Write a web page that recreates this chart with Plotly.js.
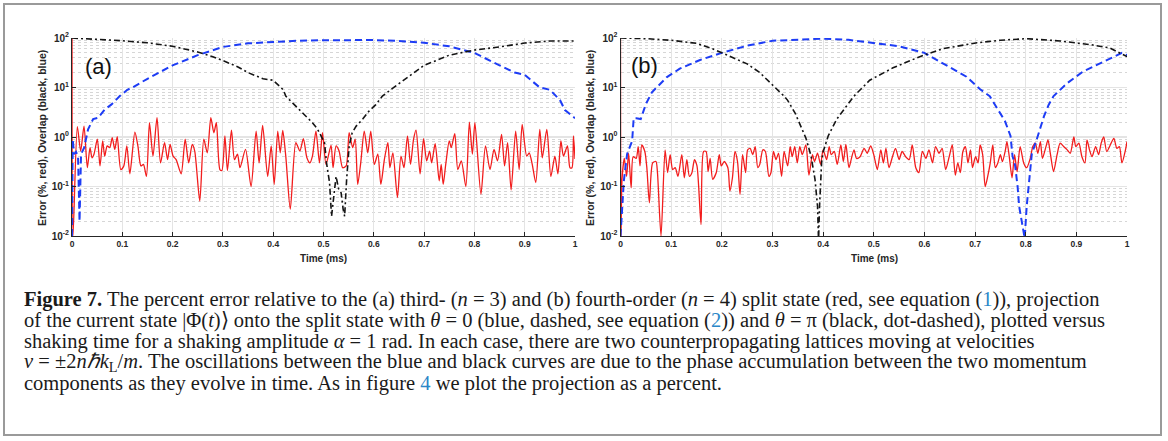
<!DOCTYPE html>
<html><head><meta charset="utf-8">
<script src="https://cdn.plot.ly/plotly-3.0.1.min.js"></script>
<style>html,body{margin:0;padding:0;background:#fff;}#chart{width:1168px;height:441px;}</style>
</head><body><div id="chart"></div>
<script>
// ---------- Panel (a): third-order split state ----------
const tRedA = [0,0.002,0.0106,0.0172,0.0239,0.0305,0.0358,0.0398,0.0437,0.0504,0.0557,0.061,0.065,0.070,0.075,0.080,0.085,0.090,0.097,0.103,0.109,0.115,0.125,0.131,0.137,0.142,0.148,0.154,0.161,0.169,0.176,0.184,0.190,0.195,0.201,0.207,0.217,0.225,0.232,0.239,0.244,0.254,0.262,0.269,0.276,0.282,0.287,0.294,0.298,0.304,0.309,0.317,0.323,0.329,0.334,
0.345,0.356,0.366,0.372,0.379,0.389,0.396,0.402,0.409,0.414,0.419,0.425,0.434,0.445,0.453,0.460,0.467,0.473,0.478,0.485,0.492,0.498,0.505,0.515,0.519,0.525,0.531,0.538,0.545,0.551,0.558,0.563,0.568,0.574,0.581,0.588,0.594,0.601,0.608,0.614,0.621,0.628,0.632,0.638,0.647,0.654,0.660,
0.667,0.673,0.679,0.684,0.692,0.699,0.705,0.711,0.715,0.722,0.730,0.734,0.738,0.743,0.750,0.754,0.761,0.767,0.774,0.783,0.790,0.796,0.801,0.813,0.822,0.831,0.839,0.846,0.854,0.860,0.866,0.873,0.882,0.889,0.895,0.904,0.909,0.915,0.922,0.930,0.935,0.944,0.952,0.960,0.966,0.972,0.977,0.985,0.990,0.994,0.997,1.0];
const redA = [100,0.01,1.61,0.52,1.66,0.24,0.61,0.38,0.45,0.90,0.26,0.83,0.41,0.66,0.61,0.97,0.56,1.02,0.22,0.26,0.66,0.18,1.26,0.66,0.26,0.28,0.16,1.94,0.41,2.45,0.30,0.77,0.35,0.71,0.41,0.35,0.18,0.90,0.30,0.71,0.52,0.051,0.90,0.48,2.45,1.22,1.94,0.22,0.21,1.05,0.21,1.38,0.35,0.45,0.24,
0.56,0.10,1.32,0.30,1.72,0.16,0.66,0.11,1.32,0.48,1.36,0.41,0.035,0.77,0.52,0.93,0.38,0.30,0.41,1.32,0.30,1.22,0.28,0.68,0.24,0.66,0.52,0.24,0.26,1.22,0.61,0.90,0.11,0.30,1.32,0.48,1.32,0.28,0.45,0.11,0.35,0.77,0.24,0.48,0.06,0.41,0.24,
1.05,0.28,0.90,1.38,0.18,0.93,0.33,0.52,0.30,0.73,0.13,0.28,0.11,0.28,0.83,0.61,1.17,0.22,0.33,0.10,2.0,0.45,1.94,0.07,0.66,0.22,0.56,0.33,1.13,0.26,0.77,0.085,1.32,0.22,1.80,0.41,0.48,0.28,0.12,1.43,0.38,1.43,0.16,0.41,0.18,0.83,0.41,0.66,0.24,0.24,1.05,0.36];

const tBlueA = [0,0.0015,0.004,0.008,0.012,0.015,0.018,0.024,0.032,0.042,0.052,0.065,0.078,0.095,0.11,0.12,0.15,0.2,0.25,0.3,0.35,0.4,0.45,0.5,0.55,0.6,0.65,0.7,0.75,0.79,0.8,0.85,0.88,0.9,0.93,0.95,0.97,0.98,1.0];
const blueA  = [0.01,0.9,0.45,0.5,0.4,0.02,0.45,0.6,1.43,2.3,2.45,3.6,4.5,6.7,9,10,15,28,45,66,78,83,88,90,92,91,87,80,68,52,50,28,20,18,10,9,5.6,3.5,2.4];

const tBlackA = [0,0.05,0.1,0.15,0.2,0.25,0.28,0.3,0.33,0.35,0.38,0.4,0.42,0.425,0.451,0.478,0.488,0.497,0.502,0.506,0.512,0.516,0.52,0.525,0.53,0.535,0.539,0.542,0.546,0.551,0.557,0.565,0.578,0.59,0.604,0.617,0.65,0.7,0.75,0.8,0.85,0.9,0.95,1.0];
const blackA  = [100,95,88,80,68,52,42,35,26,20,15,14,9,6.7,3.7,1.94,1.45,1.0,0.77,0.30,0.12,0.025,0.065,0.16,0.09,0.075,0.035,0.025,0.14,0.66,1.22,1.66,2.3,3.3,4.5,6.7,12,28,45,57,66,79,87,87];

// ---------- Panel (b): fourth-order split state ----------
const tRedB = [0,0.001,0.003,0.0076,0.012,0.016,0.021,0.025,0.031,0.035,0.0385,0.042,0.048,0.052,0.057,0.0635,0.070,0.073,0.080,0.088,0.093,0.098,0.103,0.108,0.1135,0.121,0.126,0.131,0.136,0.141,0.146,0.151,0.159,0.164,0.169,0.173,0.177,0.182,0.189,0.195,0.199,0.205,0.212,0.216,0.221,0.226,0.231,0.236,0.241,0.247,0.251,0.256,0.261,0.266,0.271,0.275,0.281,0.286,0.293,0.297,0.302,0.307,0.312,0.318,0.323,0.330,
0.335,0.339,0.344,0.349,0.354,0.359,0.366,0.372,0.379,0.383,0.389,0.395,0.400,0.407,0.412,0.416,0.422,0.428,0.435,0.440,0.445,0.451,0.456,0.461,0.466,0.473,0.481,0.487,0.494,0.500,0.507,0.514,0.519,0.524,0.530,0.537,0.543,0.550,0.556,0.563,0.570,0.576,0.583,0.589,0.596,0.603,0.609,0.616,0.622,0.629,0.635,0.642,0.649,0.655,0.661,
0.666,0.671,0.676,0.681,0.686,0.691,0.695,0.701,0.706,0.710,0.715,0.720,0.725,0.730,0.735,0.740,0.745,0.750,0.754,0.760,0.763,0.768,0.773,0.778,0.783,0.789,0.796,0.802,0.809,0.814,0.819,0.824,0.829,0.833,0.840,0.844,0.849,0.855,0.862,0.868,0.875,0.882,0.888,0.895,0.899,0.905,0.911,0.917,0.921,0.926,0.931,0.938,0.944,0.949,0.954,0.960,0.967,0.974,0.980,0.985,0.990,0.997,1.0];
const redB = [100,0.01,0.14,0.37,0.16,0.47,0.094,0.40,0.37,0.64,0.26,0.69,0.51,0.24,0.047,0.30,0.32,0.19,0.010,0.55,0.19,0.44,0.22,0.24,0.16,0.44,0.15,0.35,0.16,0.19,0.35,0.26,0.017,0.51,0.51,0.20,0.37,0.14,0.19,0.44,0.26,0.32,0.24,0.081,0.15,0.51,0.32,0.069,0.44,0.19,0.55,0.59,0.44,0.64,0.24,0.28,0.55,0.51,0.16,0.19,0.51,0.35,0.47,0.16,0.51,0.26,
0.64,0.40,0.64,0.30,0.64,0.44,0.69,0.17,0.44,0.32,0.47,0.28,0.55,0.35,0.64,0.44,0.51,0.28,0.69,0.32,0.71,0.24,0.37,0.55,0.37,0.40,0.59,0.47,0.66,0.44,0.22,0.55,0.30,0.59,0.24,0.40,0.59,0.35,0.51,0.40,0.35,0.69,0.24,0.19,0.51,0.37,0.55,0.30,0.64,0.47,0.59,0.22,0.40,0.69,0.17,
0.30,0.19,0.51,0.64,0.30,0.55,0.24,0.40,0.30,0.69,0.44,0.10,0.16,0.30,0.69,0.24,0.30,0.44,0.32,0.55,0.81,0.37,0.15,0.44,0.20,0.64,0.30,0.24,0.37,0.64,0.75,0.47,0.81,0.37,0.64,0.87,0.44,0.20,0.44,0.75,0.64,0.55,0.47,1.0,0.64,0.75,0.40,0.30,0.87,0.55,0.40,0.64,0.44,0.75,1.0,0.51,0.69,0.94,0.59,0.64,0.30,0.55,0.81];

const tBlueB = [0,0.004,0.0066,0.013,0.02,0.023,0.026,0.031,0.04,0.05,0.062,0.075,0.091,0.117,0.157,0.2,0.25,0.3,0.35,0.4,0.45,0.5,0.55,0.6,0.644,0.683,0.71,0.729,0.736,0.759,0.770,0.774,0.779,0.784,0.787,0.79,0.798,0.802,0.807,0.812,0.822,0.829,0.836,0.845,0.855,0.881,0.913,0.953,0.99,1.0];
const blueB  = [0.01,0.05,0.13,0.45,0.7,0.83,2.4,2.4,2.3,4.6,8,11,16,24,36,50,70,88,93,97,92,80,68,50,28,16.5,9.2,6.7,5.1,2.1,1.05,0.41,0.27,0.1,0.04,0.025,0.009,0.04,0.14,0.45,0.91,1.5,2.6,4.4,6.7,12,21,33,50,45];

const tBlackB = [0,0.05,0.1,0.15,0.183,0.2,0.222,0.25,0.275,0.3,0.315,0.323,0.33,0.345,0.355,0.366,0.376,0.384,0.389,0.391,0.393,0.397,0.40,0.41,0.427,0.445,0.461,0.492,0.538,0.591,0.637,0.704,0.75,0.802,0.868,0.933,0.966,1.0];
const blackB  = [100,97,90,78,60,50,40,30,20,11,8,6.7,5.5,3,1.8,0.95,0.42,0.14,0.04,0.008,0.04,0.3,0.5,1.05,2.3,4.1,6.7,14,25,42,61,80,90,97,87,72,63,42];

const xTickLabels = ['0','0.1','0.2','0.3','0.4','0.5','0.6','0.7','0.8','0.9','1'];
const yTickVals = [0.01,0.1,1,10,100];
const yTickText = ['10<sup>-2</sup>','10<sup>-1</sup>','10<sup>0</sup>','10<sup>1</sup>','10<sup>2</sup>'];
const yTitle = 'Error (%, red), Overlap (black, blue)';
const xTitle = 'Time (ms)';
const panelLabels = ['(a)','(b)'];
const captionLines = [
 '<b>Figure 7.</b> The percent error relative to the (a) third- (<i>n</i> = 3) and (b) fourth-order (<i>n</i> = 4) split state (red, see equation (<span style="color:#2b87c8">1</span>)), projection',
 'of the current state |Φ(<i>t</i>)⟩ onto the split state with <i>θ</i> = 0 (blue, dashed, see equation (<span style="color:#2b87c8">2</span>)) and <i>θ</i> = π (black, dot-dashed), plotted versus',
 'shaking time for a shaking amplitude <i>α</i> = 1 rad. In each case, there are two counterpropagating lattices moving at velocities',
 '<i>v</i> = ±2<i>nℏk</i><sub>L</sub>/<i>m</i>. The oscillations between the blue and black curves are due to the phase accumulation between the two momentum',
 'components as they evolve in time. As in figure <span style="color:#2b87c8">4</span> we plot the projection as a percent.'
];

const W = 1168, H = 441;
const px = v => v / W, py = v => 1 - v / H;

const RED = '#f21d1d', BLUE = '#1d3cf5', BLACK = '#141414';
function traces(t1, r, t2, b, t3, k, xa, ya) {
  return [
    {x: t1, y: r, xaxis: xa, yaxis: ya, mode: 'lines', line: {color: RED, width: 1.3, shape: 'spline', smoothing: 0.7}, hoverinfo: 'skip'},
    {x: t2, y: b, xaxis: xa, yaxis: ya, mode: 'lines', line: {color: BLUE, width: 2, dash: '7px,4px'}, hoverinfo: 'skip'},
    {x: t3, y: k, xaxis: xa, yaxis: ya, mode: 'lines', line: {color: BLACK, width: 1.6, dash: '6px,3px,2px,3px'}, hoverinfo: 'skip'}
  ];
}
const data = [
  ...traces(tRedA, redA, tBlueA, blueA, tBlackA, blackA, 'x', 'y'),
  ...traces(tRedB, redB, tBlueB, blueB, tBlackB, blackB, 'x2', 'y2')
];

const tickFont = {family: 'Liberation Sans, Arial, sans-serif', size: 8.5, color: '#262626', weight: 'bold'};
function xax(dom, anchor) {
  return {domain: dom, anchor: anchor, range: [0, 1], tickmode: 'array',
    tickvals: xTickLabels.map(Number), ticktext: xTickLabels,
    showgrid: true, gridcolor: '#e4e4e4', gridwidth: 1, zeroline: false,
    showline: true, linecolor: '#262626', linewidth: 1, ticks: 'inside', ticklen: 4, tickcolor: '#262626',
    tickfont: tickFont, fixedrange: true};
}
function yax(anchor) {
  return {domain: [py(236), py(38)], anchor: anchor, type: 'log', range: [-2, 2],
    tickmode: 'array', tickvals: yTickVals, ticktext: yTickText,
    showgrid: true, gridcolor: '#e4e4e4', gridwidth: 1.5, zeroline: false,
    minor: {dtick: 'D1', showgrid: true, gridcolor: '#d6d6d6', griddash: 'dot', gridwidth: 1, ticks: ''},
    showline: true, linecolor: '#262626', linewidth: 1, ticks: 'inside', ticklen: 4, tickcolor: '#262626',
    tickfont: {family: tickFont.family, size: 10, color: '#262626', weight: 'bold'}, fixedrange: true};
}

const annFont = {family: 'Liberation Sans, Arial, sans-serif', color: '#262626', weight: 'bold'};
function centered(text, x, y, font, angle) {
  return {text: text, x: px(x), y: py(y), xref: 'paper', yref: 'paper', xanchor: 'center', yanchor: 'middle',
    showarrow: false, textangle: angle || 0, font: font};
}
const annotations = [
  centered(panelLabels[0], 98, 67, {family: 'Liberation Sans, Arial, sans-serif', size: 22, color: '#111'}),
  centered(panelLabels[1], 644, 66, {family: 'Liberation Sans, Arial, sans-serif', size: 22, color: '#111'}),
  centered(yTitle, 42, 138, Object.assign({size: 10.5}, annFont), -90),
  centered(yTitle, 590, 138, Object.assign({size: 10.5}, annFont), -90),
  centered(xTitle, 323.5, 258, Object.assign({size: 10}, annFont)),
  centered(xTitle, 874, 258, Object.assign({size: 10}, annFont))
];
captionLines.forEach((line, i) => {
  annotations.push({text: line, x: px(22), y: py(299 + 21 * i), xref: 'paper', yref: 'paper',
    xanchor: 'left', yanchor: 'middle', align: 'left', showarrow: false,
    font: {family: 'Liberation Serif, Times New Roman, serif', size: 20.5, color: '#1a1a1a'}});
});

const layout = {
  width: W, height: H, margin: {l: 0, r: 0, t: 0, b: 0},
  paper_bgcolor: '#ffffff', plot_bgcolor: '#ffffff', showlegend: false,
  xaxis: xax([px(72), px(575)], 'y'),
  yaxis: yax('x'),
  xaxis2: xax([px(620.5), px(1127)], 'y2'),
  yaxis2: yax('x2'),
  annotations: annotations,
  shapes: [{type: 'rect', xref: 'paper', yref: 'paper', x0: px(4), x1: px(1161), y0: py(435), y1: py(4), line: {color: '#9a9a9a', width: 2}}]
};
Plotly.newPlot('chart', data, layout, {staticPlot: true, displayModeBar: false});
</script></body></html>
